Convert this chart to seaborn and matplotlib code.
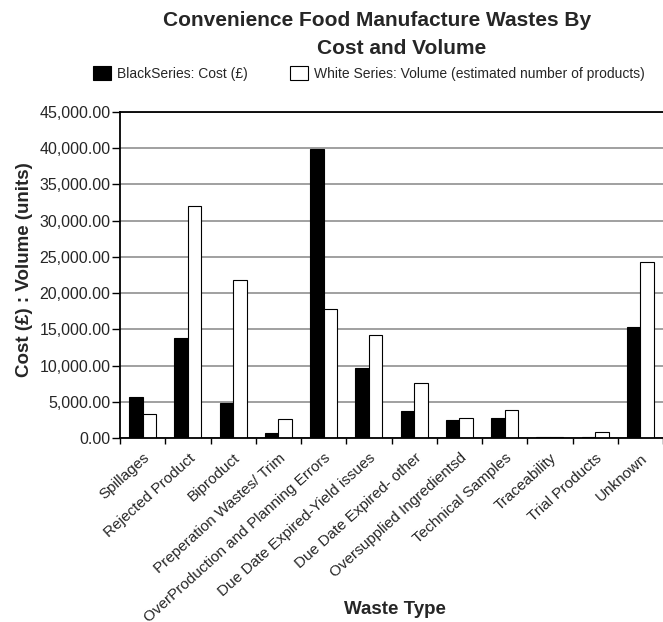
import numpy as np
import pandas as pd
import matplotlib
matplotlib.use("Agg")
import matplotlib.pyplot as plt
import matplotlib.transforms as mtransforms
import seaborn as sns
from matplotlib.ticker import FuncFormatter

# ---------------- data ----------------
categories = [
    "Spillages", "Rejected Product", "Biproduct", "Preperation Wastes/ Trim",
    "OverProduction and Planning Errors", "Due Date Expired-Yield issues",
    "Due Date Expired- other", "Oversupplied Ingredientsd", "Technical Samples",
    "Traceability", "Trial Products", "Unknown",
]
cost = [5600, 13800, 4870, 690, 39950, 9650, 3760, 2520, 2800, 150, 150, 15350]
volume = [3300, 32030, 21790, 2620, 17790, 14200, 7580, 2760, 3860, 150, 780, 24270]
series_labels = ["BlackSeries: Cost (£)",
                 "White Series: Volume (estimated number of products)"]
yticks = np.arange(0, 45001, 5000)

df = pd.DataFrame({
    "Waste Type": categories * 2,
    "Value": cost + volume,
    "Series": [series_labels[0]] * len(categories) + [series_labels[1]] * len(categories),
})

sns.set_theme(style="white")
plt.rcParams["font.family"] = ["Liberation Sans", "DejaVu Sans"]

W, H = 663, 622
fig = plt.figure(figsize=(W / 100, H / 100), dpi=100)
ax = fig.add_axes([120 / W, 1 - 438 / H, 543 / W, 326 / H])

sns.barplot(data=df, x="Waste Type", y="Value", hue="Series",
            palette=["black", "white"], edgecolor="black", linewidth=0.8,
            width=0.6, gap=0, ax=ax)

# legend above the plot
handles, labels = ax.get_legend_handles_labels()
ax.get_legend().remove()
fig.legend(handles, labels, loc="upper left", bbox_to_anchor=(93 / W, 1 - 66 / H),
           ncol=2, frameon=False, fontsize=10, handlelength=1.3, handleheight=1.15,
           handletextpad=0.45, columnspacing=3.0, borderpad=0, borderaxespad=0)

# axes styling
ax.set_ylim(0, 45000)
ax.set_xlim(-0.5, -0.5 + 543 / 45.9)
ax.set_yticks(yticks)
ax.yaxis.set_major_formatter(FuncFormatter(lambda v, p: f"{v:,.2f}"))
ax.yaxis.grid(True, color="#999999", lw=1.3)
ax.set_axisbelow(True)
for side in ["left", "bottom", "top"]:
    ax.spines[side].set_color("black")
    ax.spines[side].set_linewidth(1.3)
ax.spines["right"].set_visible(False)

ax.tick_params(axis="y", direction="out", length=6, width=1, color="black",
               labelsize=11.5, pad=1, left=True)
ax.set_xticks(np.arange(-0.5, len(categories), 1), minor=True)
ax.tick_params(axis="x", which="minor", direction="out", length=4, width=1,
               color="black", bottom=True)
ax.tick_params(axis="x", which="major", length=0, labelsize=11, pad=13)

offset = mtransforms.ScaledTranslation(5 / 100, 0, fig.dpi_scale_trans)
for lbl in ax.get_xticklabels():
    lbl.set_rotation(42)
    lbl.set_ha("right")
    lbl.set_va("center")
    lbl.set_rotation_mode("anchor")
    lbl.set_transform(lbl.get_transform() + offset)

ax.set_xlabel("Waste Type", fontsize=13.5, fontweight="bold", va="center")
ax.xaxis.set_label_coords((395 - 120) / 543, (438 - 609) / 326)
ax.set_ylabel("Cost (£) : Volume (units)", fontsize=13.5, fontweight="bold", va="center")
ax.yaxis.set_label_coords((25 - 120) / 543, (438 - 270) / 326)

# two-line title
fig.text(377 / W, 1 - 20 / H, "Convenience Food Manufacture Wastes By",
         ha="center", va="center", fontsize=15, fontweight="bold")
fig.text(402 / W, 1 - 49 / H, "Cost and Volume",
         ha="center", va="center", fontsize=15, fontweight="bold")

fig.savefig("out.png", dpi=100)
plt.close(fig)
